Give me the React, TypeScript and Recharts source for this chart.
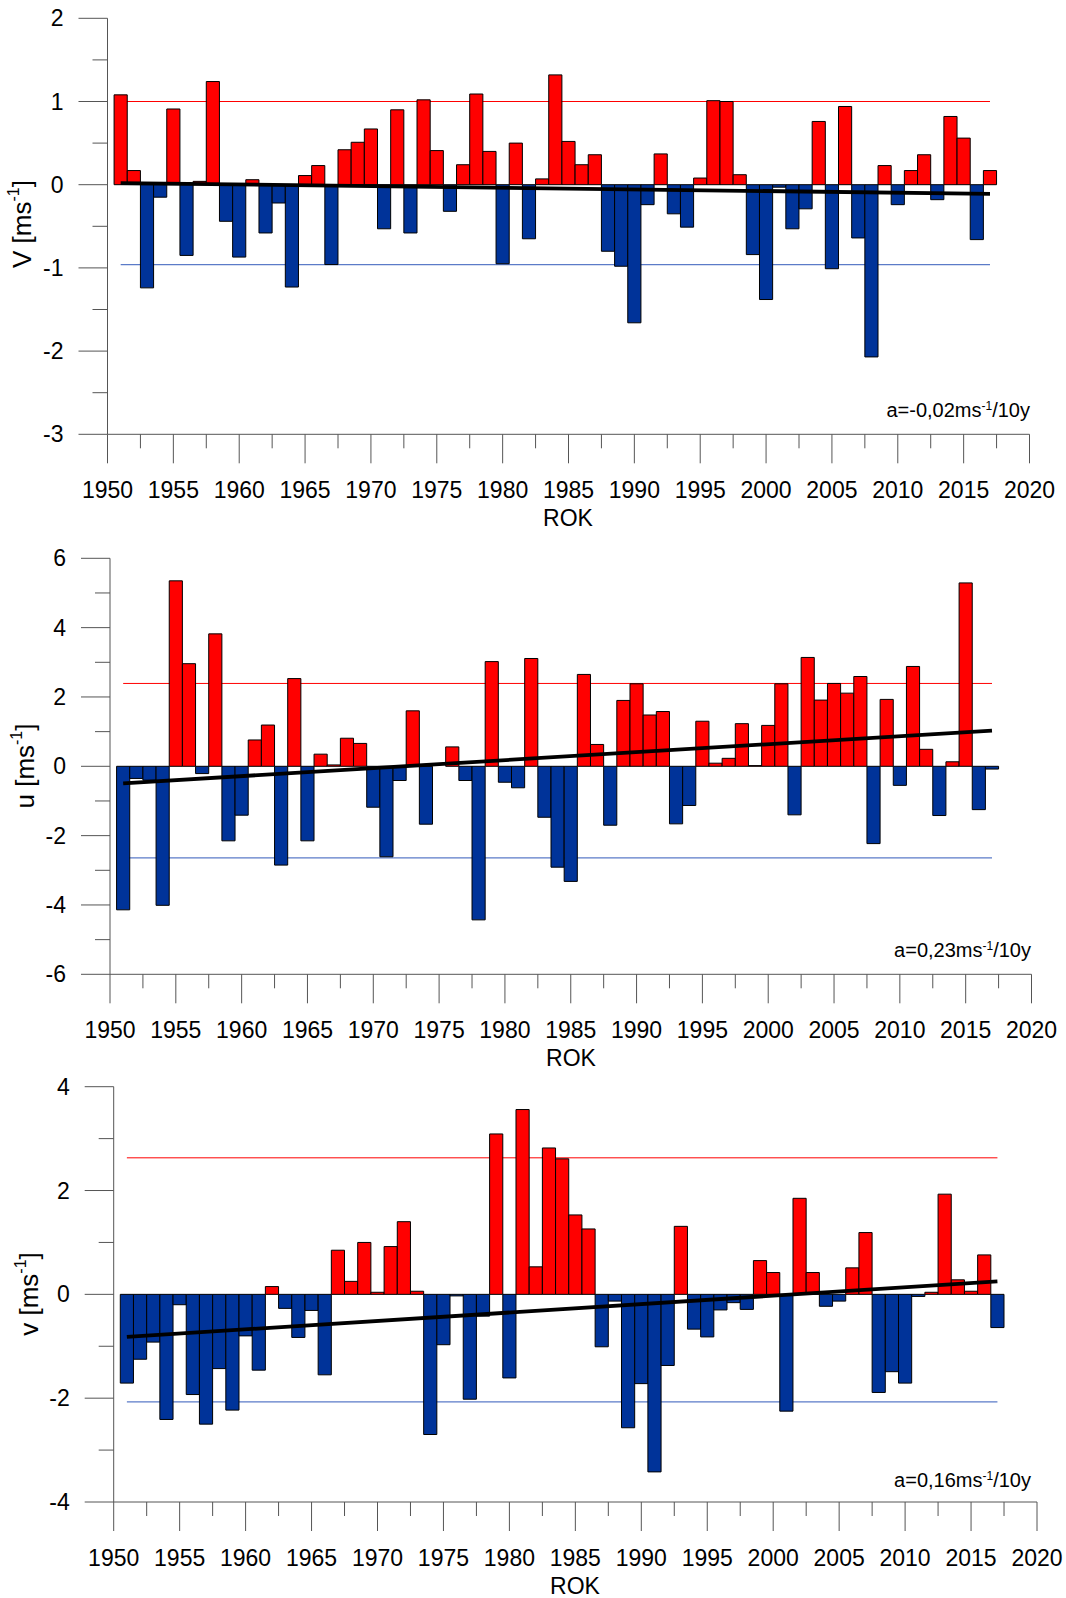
import React from 'react';
import { ComposedChart, Bar, Cell, XAxis, YAxis, ReferenceLine } from 'recharts';

const FONT = '"Liberation Sans", Arial, sans-serif';
const AXIS = '#555555';
const RED = '#ff0000';
const BLUE = '#003399';

const years = [
  1951, 1952, 1953, 1954, 1955, 1956, 1957, 1958, 1959, 1960,
  1961, 1962, 1963, 1964, 1965, 1966, 1967, 1968, 1969, 1970,
  1971, 1972, 1973, 1974, 1975, 1976, 1977, 1978, 1979, 1980,
  1981, 1982, 1983, 1984, 1985, 1986, 1987, 1988, 1989, 1990,
  1991, 1992, 1993, 1994, 1995, 1996, 1997, 1998, 1999, 2000,
  2001, 2002, 2003, 2004, 2005, 2006, 2007, 2008, 2009, 2010,
  2011, 2012, 2013, 2014, 2015, 2016, 2017,
];

// anomalie predkosci wiatru V
const speedV = [
  1.08, 0.17, -1.24, -0.15, 0.91, -0.85, 0.04, 1.24, -0.44, -0.87,
  0.06, -0.58, -0.22, -1.23, 0.11, 0.23, -0.96, 0.42, 0.51, 0.67,
  -0.53, 0.9, -0.58, 1.02, 0.41, -0.32, 0.24, 1.09, 0.4, -0.95,
  0.5, -0.65, 0.07, 1.32, 0.52, 0.24, 0.36, -0.8, -0.98, -1.66,
  -0.24, 0.37, -0.35, -0.51, 0.08, 1.01, 1.0, 0.12, -0.84, -1.38,
  -0.03, -0.53, -0.29, 0.76, -1.01, 0.94, -0.64, -2.07, 0.23, -0.24,
  0.17, 0.36, -0.18, 0.82, 0.56, -0.66, 0.17,
];

// skladowa u
const compU = [
  -4.14, -0.35, -0.4, -4.01, 5.35, 2.96, -0.21, 3.82, -2.15, -1.41,
  0.76, 1.19, -2.85, 2.53, -2.15, 0.35, 0.04, 0.81, 0.66, -1.18,
  -2.61, -0.41, 1.6, -1.67, 0.0, 0.56, -0.41, -4.43, 3.02, -0.46,
  -0.62, 3.11, -1.47, -2.91, -3.32, 2.65, 0.63, -1.7, 1.9, 2.38,
  1.48, 1.58, -1.66, -1.13, 1.3, 0.09, 0.23, 1.23, 0.02, 1.18,
  2.38, -1.4, 3.14, 1.91, 2.39, 2.11, 2.59, -2.23, 1.93, -0.55,
  2.88, 0.49, -1.42, 0.13, 5.29, -1.25, -0.08,
];

// skladowa v
const compV = [
  -1.71, -1.25, -0.92, -2.41, -0.2, -1.93, -2.5, -1.43, -2.23, -0.8,
  -1.46, 0.15, -0.27, -0.83, -0.31, -1.55, 0.85, 0.25, 1.0, 0.04,
  0.92, 1.4, 0.06, -2.7, -0.97, -0.03, -2.02, -0.42, 3.09, -1.61,
  3.56, 0.53, 2.82, 2.61, 1.53, 1.26, -1.01, -0.13, -2.57, -1.72,
  -3.42, -1.37, 1.31, -0.67, -0.82, -0.3, -0.16, -0.29, 0.65, 0.42,
  -2.25, 1.85, 0.42, -0.23, -0.13, 0.51, 1.19, -1.89, -1.49, -1.71,
  -0.04, 0.04, 1.93, 0.28, 0.06, 0.76, -0.64,
];

// granice (gorna, dolna) i trend (1951, 2017)
const limitsV = [1.0, -0.96];
const limitsU = [2.39, -2.64];
const limitsComp = [2.63, -2.07];
const trendV = [0.02, -0.11];
const trendU = [-0.49, 1.03];
const trendComp = [-0.82, 0.25];

const xTicks = [
  1950, 1952.5, 1955, 1957.5, 1960, 1962.5, 1965, 1967.5, 1970, 1972.5,
  1975, 1977.5, 1980, 1982.5, 1985, 1987.5, 1990, 1992.5, 1995, 1997.5,
  2000, 2002.5, 2005, 2007.5, 2010, 2012.5, 2015, 2017.5, 2020,
];
const yTicksV = [-3, -2.5, -2, -1.5, -1, -0.5, 0, 0.5, 1, 1.5, 2];
const yTicksU = [-6, -5, -4, -3, -2, -1, 0, 1, 2, 3, 4, 5, 6];
const yTicksComp = [-4, -3, -2, -1, 0, 1, 2, 3, 4];

const XTick = (props: any) => {
  const { x, y, payload } = props;
  const v = payload.value;
  const major = v % 5 === 0;
  return (
    <g>
      <line x1={x} x2={x} y1={y} y2={y + (major ? 29 : 14)} stroke={AXIS} strokeWidth={1} />
      {major && (
        <text x={x} y={y + 64} textAnchor="middle" fontSize={23} fill="#000" fontFamily={FONT}>
          {v}
        </text>
      )}
    </g>
  );
};

const makeYTick = (step: number) => (props: any) => {
  const { x, y, payload } = props;
  const v = payload.value;
  const major = Math.abs(v / step - Math.round(v / step)) < 1e-6;
  return (
    <g>
      <line x1={x - (major ? 29 : 15)} x2={x} y1={y} y2={y} stroke={AXIS} strokeWidth={1} />
      {major && (
        <text x={x - 44} y={y + 8} textAnchor="end" fontSize={23} fill="#000" fontFamily={FONT}>
          {v}
        </text>
      )}
    </g>
  );
};

interface PanelProps {
  top: number;
  height: number;
  plot: { left: number; right: number; top: number; bottom: number };
  values: number[];
  domain: [number, number];
  yTicks: number[];
  step: number;
  limits: number[];
  trend: number[];
}

const Panel = ({ top, height, plot, values, domain, yTicks, step, limits, trend }: PanelProps) => {
  const data = years.map((year, i) => ({ year, value: values[i] }));
  const margin = {
    top: plot.top - top,
    left: plot.left - 60,
    right: 1066 - plot.right,
    bottom: top + height - plot.bottom - 60,
  };
  // just under one year wide, otherwise recharts shrinks bars to 90%
  const barSize = (plot.right - plot.left) / 70 - 0.02;
  return (
    <div style={{ position: 'absolute', left: 0, top }}>
      <ComposedChart width={1066} height={height} data={data} margin={margin}>
        <XAxis
          type="number"
          dataKey="year"
          domain={[1950, 2020]}
          ticks={xTicks}
          interval={0}
          height={60}
          tickSize={0}
          tickMargin={0}
          tickLine={false}
          axisLine={{ stroke: AXIS }}
          tick={XTick}
          allowDataOverflow
        />
        <YAxis
          type="number"
          domain={domain}
          ticks={yTicks}
          interval={0}
          width={60}
          tickSize={0}
          tickMargin={0}
          tickLine={false}
          axisLine={{ stroke: AXIS }}
          tick={makeYTick(step)}
          allowDataOverflow
        />
        <ReferenceLine
          segment={[{ x: 1951, y: limits[0] }, { x: 2017, y: limits[0] }]}
          stroke={RED}
          strokeWidth={1}
          zIndex={100}
        />
        <ReferenceLine
          segment={[{ x: 1951, y: limits[1] }, { x: 2017, y: limits[1] }]}
          stroke="#5b7bc8"
          strokeWidth={1.2}
          zIndex={100}
        />
        <Bar dataKey="value" barSize={barSize} isAnimationActive={false} stroke="#000" strokeWidth={1}>
          {data.map((d) => (
            <Cell key={d.year} fill={d.value >= 0 ? RED : BLUE} />
          ))}
        </Bar>
        <ReferenceLine
          segment={[{ x: 1951, y: trend[0] }, { x: 2017, y: trend[1] }]}
          stroke="#000"
          strokeWidth={3.8}
          zIndex={1000}
        />
      </ComposedChart>
    </div>
  );
};

const YLabel = ({ x, y, name }: { x: number; y: number; name: string }) => (
  <text x={x} y={y} transform={`rotate(-90 ${x} ${y})`} textAnchor="middle" fontSize={26} fontFamily={FONT} fill="#000" dominantBaseline="central">
    {name} [ms<tspan dy={-9} fontSize={16}>-1</tspan><tspan dy={9}>]</tspan>
  </text>
);

const Slope = ({ x, y, value }: { x: number; y: number; value: string }) => (
  <text x={x} y={y} textAnchor="end" fontSize={20} fontFamily={FONT} fill="#000">
    a={value}ms<tspan dy={-7} fontSize={12}>-1</tspan><tspan dy={7}>/10y</tspan>
  </text>
);

const Rok = ({ x, y }: { x: number; y: number }) => (
  <text x={x} y={y} textAnchor="middle" fontSize={23} fontFamily={FONT} fill="#000">ROK</text>
);

export default function App() {
  return (
    <div style={{ position: 'absolute', left: 0, top: 0, width: 1066, height: 1598, background: '#fff' }}>
      <Panel
        top={0}
        height={530}
        plot={{ left: 107.5, right: 1029.5, top: 18.3, bottom: 434.3 }}
        values={speedV}
        domain={[-3, 2]}
        yTicks={yTicksV}
        step={1}
        limits={limitsV}
        trend={trendV}
      />
      <Panel
        top={530}
        height={530}
        plot={{ left: 110, right: 1031.5, top: 558.3, bottom: 974.3 }}
        values={compU}
        domain={[-6, 6]}
        yTicks={yTicksU}
        step={2}
        limits={limitsU}
        trend={trendU}
      />
      <Panel
        top={1060}
        height={538}
        plot={{ left: 113.7, right: 1037, top: 1086.7, bottom: 1502 }}
        values={compV}
        domain={[-4, 4]}
        yTicks={yTicksComp}
        step={2}
        limits={limitsComp}
        trend={trendComp}
      />
      <svg width={1066} height={1598} style={{ position: 'absolute', left: 0, top: 0, pointerEvents: 'none' }}>
        <YLabel x={22} y={224} name="V" />
        <YLabel x={25} y={766} name="u" />
        <YLabel x={29} y={1294} name="v" />
        <Slope x={1030} y={417} value="-0,02" />
        <Slope x={1031} y={957} value="0,23" />
        <Slope x={1031} y={1487} value="0,16" />
        <Rok x={568} y={526} />
        <Rok x={571} y={1066} />
        <Rok x={575} y={1594} />
      </svg>
    </div>
  );
}
